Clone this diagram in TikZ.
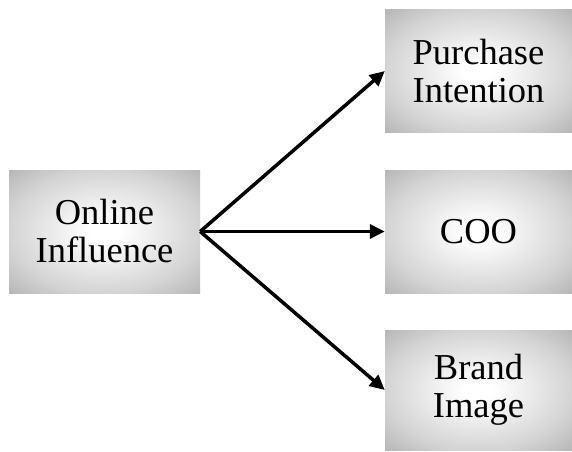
\documentclass[tikz,border=0pt]{standalone}
\usepackage{fontspec}
\setmainfont{Liberation Serif}
\usetikzlibrary{arrows.meta}
\pgfdeclareradialshading{boxshade}{\pgfpoint{0bp}{0bp}}{color(0bp)=(white); color(4bp)=(white); color(25bp)=(black!17); color(36bp)=(black!29); color(50bp)=(black!29)}
\tikzset{
  gbox/.style={rectangle, draw=none, shading=boxshade, inner sep=0pt, align=center,
    font=\fontsize{36.5}{38}\selectfont},
  conn/.style={line width=3.5pt, -{Triangle[length=15pt,width=14pt]}, shorten >=0pt}
}
\begin{document}
\begin{tikzpicture}[x=1pt,y=1pt]
\useasboundingbox (0,0) rectangle (572,451);
\node[gbox, minimum width=191pt, minimum height=123pt] (oi) at (104.5,219.5) {Online\\Influence};
\node[gbox, minimum width=187pt, minimum height=122pt] (pi) at (478.5,380) {Purchase\\Intention};
\node[gbox, minimum width=187pt, minimum height=123pt] (coo) at (478.5,219.5) {COO};
\node[gbox, minimum width=187pt, minimum height=120pt] (bi) at (478.5,61) {Brand\\Image};
\draw[conn] (oi.east) -- (pi.west);
\draw[conn] (oi.east) -- (coo.west);
\draw[conn] (oi.east) -- (bi.west);
\end{tikzpicture}
\end{document}
